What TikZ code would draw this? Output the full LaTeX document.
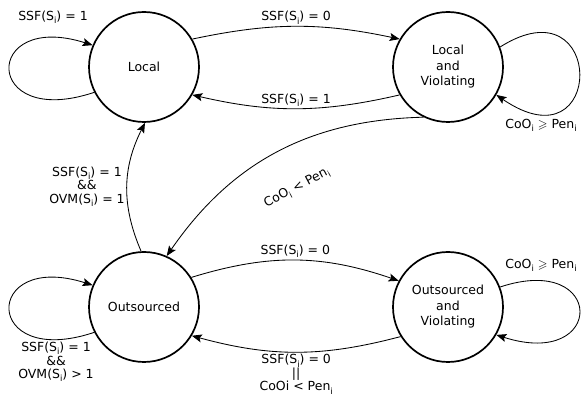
\documentclass[tikz,border=0pt]{standalone}
\usepackage{fontspec}
\setmainfont{DejaVu Sans}
\usepackage{amssymb}
\usetikzlibrary{arrows.meta}
\newcommand{\sbi}{\raisebox{-0.45ex}{\fontsize{8.5}{9}\selectfont i}}
\begin{document}
\begin{tikzpicture}[x=1pt,y=1pt,
  font=\fontsize{12.5}{15.5}\selectfont,
  state/.style={circle, draw, line width=1.7pt, minimum size=110pt, inner sep=0pt, align=center},
  edge/.style={line width=0.85pt, -{Stealth[length=10pt,width=8pt,inset=2pt]}},
  lbl/.style={inner sep=2pt, align=center, font=\fontsize{12.5}{13.5}\selectfont}]
\useasboundingbox (0,0) rectangle (583,398);
\node[state] (L) at (144,331) {Local};
\node[state] (LV) at (448,331) {Local\\and\\Violating};
\node[state] (O) at (144,91) {Outsourced};
\node[state] (OV) at (448,91) {Outsourced\\and\\Violating};

\draw[edge] (L.30) to[bend left=12] node[lbl,above] (t1) {SSF(S\sbi) = 0} (LV.150);
\draw[edge] (LV.210) to[bend left=13] node[lbl,above] (t2) {SSF(S\sbi) = 1} (L.330);
\draw[edge] (L.207) .. controls (-18,268) and (-18,388) .. (L.157);
\node[lbl] (t3) at (53,381) {SSF(S\sbi) = 1};
\draw[edge] (LV.21) .. controls (606,418) and (606,228) .. (LV.330);
\node[lbl] (t4) at (541,273) {CoO\sbi{} $\geqslant$ Pen\sbi};
\draw[edge] (O.93) to[bend left=25] node[lbl,left] (t5) {SSF(S\sbi) = 1\\\&\&\\OVM(S\sbi) = 1} (L.271);
\draw[edge] (LV.244) to[bend right=27] (O.66);
\node[lbl, rotate=28] (t6) at (297,210) {CoO\sbi{} < Pen\sbi};
\draw[edge] (O.32) to[bend left=18] node[lbl,above] (t7) {SSF(S\sbi) = 0} (OV.152);
\draw[edge] (OV.212) to[bend left=15] node[lbl,below] (t8) {SSF(S\sbi) = 0\\||\\CoOi < Pen\sbi} (O.329);
\draw[edge] (O.207) .. controls (-18,28) and (-18,148) .. (O.157);
\node[lbl] (t9) at (56,36) {SSF(S\sbi) = 1\\\&\&\\OVM(S\sbi) > 1};
\draw[edge] (OV.21) .. controls (606,146) and (606,28) .. (OV.330);
\node[lbl] (t10) at (541,133) {CoO\sbi{} $\geqslant$ Pen\sbi};
\end{tikzpicture}
\end{document}
